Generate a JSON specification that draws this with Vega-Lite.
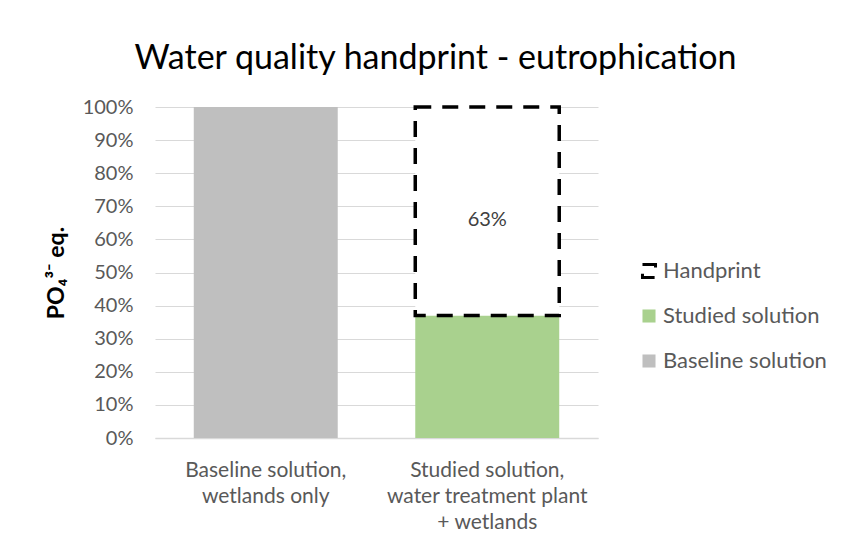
{
  "$schema": "https://vega.github.io/schema/vega-lite/v6.json",
  "width": 443,
  "height": 331,
  "autosize": {"type": "none"},
  "padding": {"left": 155, "top": 107, "right": 245, "bottom": 117},
  "background": "white",
  "title": {
    "text": "Water quality handprint - eutrophication",
    "font": "Lato",
    "fontSize": 34,
    "fontWeight": "normal",
    "color": "#000000",
    "anchor": "middle",
    "dx": 59,
    "offset": 21
  },
  "data": {
    "values": [
      {"category": "Baseline solution,|wetlands only", "series": "Baseline solution", "start": 0, "end": 1.0, "label": ""},
      {"category": "Studied solution,|water treatment plant|+ wetlands", "series": "Studied solution", "start": 0, "end": 0.37, "label": ""},
      {"category": "Studied solution,|water treatment plant|+ wetlands", "series": "Handprint", "start": 0.37, "end": 1.0, "label": "63%"}
    ]
  },
  "layer": [
    {
      "mark": {"type": "bar", "strokeWidth": 3.5, "strokeCap": "butt"},
      "encoding": {
        "x": {
          "field": "category",
          "type": "nominal",
          "sort": null,
          "scale": {"paddingInner": 0.35, "paddingOuter": 0.175},
          "axis": {
            "title": null,
            "labelAngle": 0,
            "labelExpr": "split(datum.label, '|')",
            "labelFont": "Lato",
            "labelFontSize": 21,
            "labelColor": "#595959",
            "labelPadding": 21,
            "labelLineHeight": 26,
            "labelLimit": 400,
            "ticks": false,
            "domainColor": "#D9D9D9",
            "domainWidth": 1.5
          }
        },
        "y": {
          "field": "start",
          "type": "quantitative",
          "scale": {"domain": [0, 1]},
          "axis": {
            "title": "PO₄³⁻ eq.",
            "titleFont": "Lato",
            "titleFontSize": 23,
            "titleFontWeight": "bold",
            "titleColor": "#000000",
            "titlePadding": 14,
            "format": ".0%",
            "values": [0, 0.1, 0.2, 0.3, 0.4, 0.5, 0.6, 0.7, 0.8, 0.9, 1.0],
            "tickCount": 11,
            "labelOverlap": false,
            "labelFont": "Lato",
            "labelFontSize": 20,
            "labelColor": "#595959",
            "labelPadding": 22,
            "ticks": false,
            "domain": false,
            "gridColor": "#D9D9D9",
            "gridWidth": 1.2
          }
        },
        "y2": {"field": "end"},
        "fill": {
          "field": "series",
          "type": "nominal",
          "scale": {
            "domain": ["Handprint", "Studied solution", "Baseline solution"],
            "range": ["#FFFFFF", "#A9D18E", "#BFBFBF"]
          },
          "legend": {
            "title": null,
            "orient": "none",
            "legendX": 483,
            "legendY": 153,
            "labelFont": "Lato",
            "labelFontSize": 22,
            "labelColor": "#595959",
            "labelLimit": 300,
            "symbolType": "square",
            "symbolSize": 170,
            "rowPadding": 19,
            "labelOffset": 3,
            "symbolStrokeWidth": 3
          }
        },
        "stroke": {
          "field": "series",
          "type": "nominal",
          "scale": {
            "domain": ["Handprint", "Studied solution", "Baseline solution"],
            "range": ["#000000", "transparent", "transparent"]
          },
          "legend": null
        },
        "strokeDash": {
          "field": "series",
          "type": "nominal",
          "scale": {
            "domain": ["Handprint", "Studied solution", "Baseline solution"],
            "range": [[16, 11], [1, 0], [1, 0]]
          },
          "legend": null
        }
      }
    },
    {
      "transform": [{"calculate": "(datum.start + datum.end) / 2", "as": "mid"}],
      "mark": {"type": "text", "font": "Lato", "fontSize": 20, "color": "#404040", "dy": 9},
      "encoding": {
        "x": {"field": "category", "type": "nominal", "sort": null},
        "y": {
          "field": "mid",
          "type": "quantitative",
          "axis": {
            "title": "PO₄³⁻ eq.",
            "values": [0, 0.1, 0.2, 0.3, 0.4, 0.5, 0.6, 0.7, 0.8, 0.9, 1.0],
            "tickCount": 11,
            "labelOverlap": false,
            "format": ".0%"
          }
        },
        "text": {"field": "label"}
      }
    }
  ],
  "config": {"view": {"stroke": null}}
}
